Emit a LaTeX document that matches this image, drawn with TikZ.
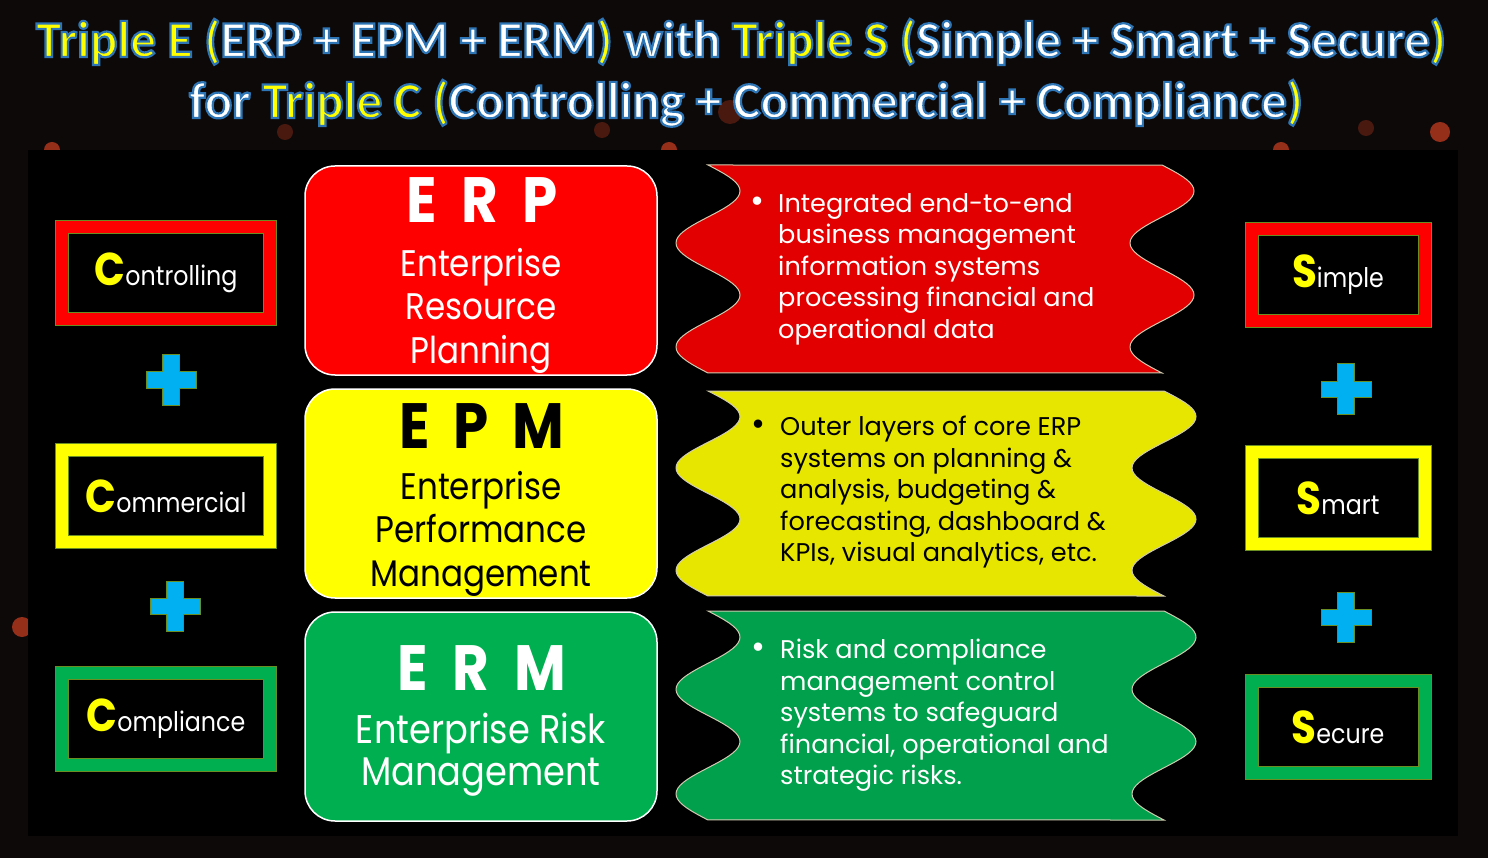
\documentclass[tikz,border=0pt]{standalone}
\usepackage{fontspec}
\setmainfont{Poppins}[FakeStretch=0.88]
\newfontfamily\notefont{Poppins}
\newfontfamily\titlefont{Carlito}
\usetikzlibrary{positioning}

\definecolor{cred}{HTML}{FF0000}
\definecolor{cyellow}{HTML}{FFFF00}
\definecolor{cgreen}{HTML}{00B050}
\definecolor{wred}{HTML}{E20000}
\definecolor{wyellow}{HTML}{E6E600}
\definecolor{wgreen}{HTML}{00A04C}
\definecolor{cedge}{HTML}{6B8E23}
\definecolor{wedge}{HTML}{D0CBB0}
\definecolor{pluscyan}{HTML}{00B0F0}
\definecolor{bgdark}{HTML}{0E0909}
\definecolor{bokeh}{HTML}{B8391F}

% blue glow round the title letters
\newcommand{\glowon}{\special{pdf:literal direct 0.18 0.46 0.71 RG 2.2 w 2 Tr}}
\newcommand{\glowoff}{\special{pdf:literal direct 0 Tr}}
\newcommand{\ty}[1]{{\color{cyellow}\glowon#1}}
\newcommand{\tw}[1]{{\color{white}\glowon#1}}
\newcommand{\initial}[1]{\textcolor{cyellow}{\fontsize{46}{46}\selectfont\bfseries #1}}

\begin{document}
\begin{tikzpicture}[x=1pt, y=-1pt,
       node distance=223pt,
       titletext/.style={font=\titlefont\bfseries\fontsize{51.5}{60}\selectfont, inner sep=0pt},
       cframe/.style={rectangle, draw=cedge, double=#1, double distance=12pt, line width=1pt, fill=black, minimum width=208, minimum height=92, text=white, font=\fontsize{27}{30}\selectfont},
       ebox/.style={rectangle, rounded corners=30pt, draw=white, line width=1.5pt, fill=#1, minimum width=352, minimum height=209},
       etitle/.style={font=\bfseries\fontsize{64}{64}\selectfont, inner sep=0pt},
       edesc/.style={align=center, font=\fontsize{37}{43.5}\selectfont, inner sep=0pt},
       wavefill/.style={fill=#1, draw=wedge, line width=1pt},
       note/.style={align=left, font=\notefont\fontsize{25.6}{31.5}\selectfont, inner sep=0pt},
       dot/.style={font=\notefont\fontsize{34}{34}\selectfont, inner sep=0pt},
       plussign/.pic={\draw[fill=pluscyan, draw=cedge, line width=1pt] (-8.5,-25) -- (8.5,-25) -- (8.5,-8) -- (25,-8) -- (25,8) -- (8.5,8) -- (8.5,25) -- (-8.5,25) -- (-8.5,8) -- (-25,8) -- (-25,-8) -- (-8.5,-8) -- cycle;}
   ]
   \useasboundingbox (0,0) rectangle (1488,858);
   \fill[bgdark] (0,0) rectangle (1488,858);
   % red lights behind the panel
   \fill[bokeh, opacity=0.35] (730,112) circle (12) (285,132) circle (8) (602,130) circle (8) (1366,128) circle (8);
   \fill[bokeh, opacity=0.8] (52,150) circle (8) (669,150) circle (8) (1281,150) circle (8) (1440,132) circle (10) (22,627) circle (10);
   \fill[black] (28,150) rectangle (1458,836);

   % title
   \node[titletext, anchor=base] (titlea) at (741,57) {\ty{Triple E (}\tw{ERP + EPM + ERM}\ty{)} \tw{with} \ty{Triple S (}\tw{Simple + Smart + Secure}\ty{)}\glowoff};
   \node[titletext, anchor=base] (titleb) at (746,118) {\tw{for} \ty{Triple C (}\tw{Controlling + Commercial + Compliance}\ty{)}\glowoff};

   % triple C
   \node[cframe=cred] (ctrl) at (166,273) {\initial{C}ontrolling};
   \node[cframe=cyellow, below of=ctrl] (comm) {\initial{C}ommercial};
   \node[cframe=cgreen, below of=comm] (compl) {\initial{C}ompliance};
   \pic at (171,380) {plussign};
   \pic at (175,606) {plussign};

   % triple E
   \node[ebox=cred] (erp) at (481,270.5) {};
   \node[ebox=cyellow, below of=erp] (epm) {};
   \node[ebox=cgreen, below of=epm] (erm) {};
   \node[etitle, text=white, anchor=base] (erptitle) at (482,223) {E\hspace{24pt}R\hspace{24pt}P};
   \node[edesc, text=white, anchor=north] (erpdesc) at (481,248) {Enterprise\\Resource\\Planning};
   \node[etitle, text=black, anchor=base] (epmtitle) at (482,448) {E\hspace{24pt}P\hspace{24pt}M};
   \node[edesc, text=black, anchor=north] (epmdesc) at (481,471) {Enterprise\\Performance\\Management};
   \node[etitle, text=white, anchor=base] (ermtitle) at (482,690) {E\hspace{25pt}R\hspace{25pt}M};
   \node[edesc, text=white, anchor=north, font=\fontsize{40}{42}\selectfont] (ermdesc) at (481,713) {Enterprise Risk\\Management};

   % notes
   \draw[wavefill=wred] plot[domain=0:1, samples=73] ({708+32*sin(720*\x)}, {165+208*\x})
      -- plot[domain=1:0, samples=73] ({1162+32*sin(720*\x)}, {165+208*\x}) -- cycle;
   \draw[wavefill=wyellow] plot[domain=0:1, samples=73] ({708+32*sin(720*\x)}, {391+205*\x})
      -- plot[domain=1:0, samples=73] ({1164+32*sin(720*\x)}, {391+205*\x}) -- cycle;
   \draw[wavefill=wgreen] plot[domain=0:1, samples=73] ({708+32*sin(720*\x)}, {611+209*\x})
      -- plot[domain=1:0, samples=73] ({1164+32*sin(720*\x)}, {611+209*\x}) -- cycle;
   \node[dot, text=white] (erpdot) at (757,205) {\textbullet};
   \node[note, text=white, anchor=north west] (erpnote) at (778,193) {Integrated end-to-end\\business management\\information systems\\processing financial and\\operational data};
   \node[dot, text=black] (epmdot) at (758,428) {\textbullet};
   \node[note, text=black, anchor=north west] (epmnote) at (780,416) {Outer layers of core ERP\\systems on planning \&\\analysis, budgeting \&\\forecasting, dashboard \&\\KPIs, visual analytics, etc.};
   \node[dot, text=white] (ermdot) at (758,651) {\textbullet};
   \node[note, text=white, anchor=north west] (ermnote) at (780,639) {Risk and compliance\\management control\\systems to safeguard\\financial, operational and\\strategic risks.};

   % triple S
   \node[cframe=cred, minimum width=173] (simple) at (1338,275) {\initial{S}imple};
   \node[cframe=cyellow, minimum width=173, below of=simple] (smart) {\initial{S}mart};
   \node[cframe=cgreen, minimum width=173, below of=smart, yshift=-6pt] (secure) {\initial{S}ecure};
   \pic at (1346,389) {plussign};
   \pic at (1346,617) {plussign};
   \end{tikzpicture}
\end{document}
